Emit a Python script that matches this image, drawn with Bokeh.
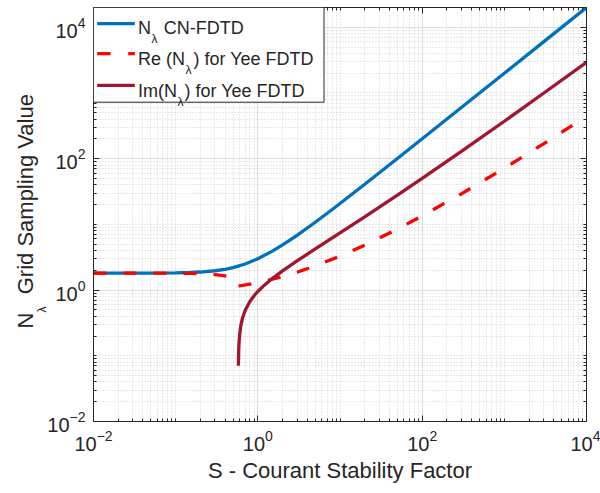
from bokeh.plotting import figure
from bokeh.models import (LogAxis, FixedTicker, CustomJSTickFormatter, Label,
                          BoxAnnotation, Range1d, Title)
from bokeh.embed import file_html
from bokeh.resources import INLINE

# ---- data ----
S_cn = [0.01, 0.05, 0.1, 0.15, 0.2, 0.3, 0.4, 0.5, 0.7, 1.0, 1.5, 2.0, 3.0, 5.0, 7.0,
        10.0, 20.0, 50.0, 100.0, 300.0, 1000.0, 3000.0, 10000.0]
N_cn = [1.814, 1.818, 1.832, 1.854, 1.884, 1.970, 2.074, 2.201, 2.496, 3.000, 3.916,
        4.872, 6.826, 10.79, 14.77, 20.76, 40.75, 100.74, 200.74, 600.7, 2000.7,
        6000.7, 20000.7]

S_re = [0.01, 0.05, 0.1, 0.15, 0.2, 0.3, 0.4, 0.45, 0.5, 0.55, 0.56, 0.57, 0.575,
        0.57735, 0.58, 0.59, 0.6, 0.62, 0.65, 0.7, 0.8, 0.9, 1.0, 1.2, 1.5, 2.0, 3.0,
        5.0, 10.0, 20.0, 50.0, 100.0, 300.0, 1000.0, 3000.0, 10000.0]
N_re = [1.8137, 1.8115, 1.8047, 1.7930, 1.7762, 1.7249, 1.6418, 1.5818, 1.5000,
        1.3694, 1.3278, 1.2691, 1.2201, 1.1547, 1.1557, 1.1595, 1.1633, 1.1707,
        1.1819, 1.2003, 1.2362, 1.2711, 1.3051, 1.3708, 1.4643, 1.6098, 1.8730,
        2.3318, 3.2836, 4.8315, 8.4977, 13.460, 29.190, 71.630, 168.22, 441.68]

S_im = [0.58, 0.585, 0.59, 0.6, 0.62, 0.65, 0.7, 0.8, 0.9, 1.0, 1.2, 1.5, 2.0, 3.0,
        5.0, 10.0, 20.0, 50.0, 100.0, 300.0, 1000.0, 3000.0, 10000.0]
N_im = [0.07046, 0.1198, 0.1542, 0.2068, 0.2848, 0.3736, 0.4896, 0.6707, 0.8200,
        0.9523, 1.1878, 1.4996, 1.9616, 2.7803, 4.2285, 7.4088, 13.035, 27.885,
        50.109, 129.08, 371.66, 990.46, 2939.1]

major_ticks = [1e-2, 1e0, 1e2, 1e4]
minor_ticks = [m * 10.0 ** k for k in range(-2, 4) for m in range(2, 10)] + [1e-1, 1e1, 1e3]

FONT = "Liberation Sans"
TXT = "#262626"
BLUE = "#0072BD"
RED = "#FF0000"
DRED = "#A2142F"
LW = 3.3

p = figure(width=600, height=493, x_axis_type="log", y_axis_type="log",
           x_range=Range1d(1e-2, 1e4), y_range=Range1d(1e-2, 20000.7),
           output_backend="svg", toolbar_location=None,
           min_border_left=93, min_border_right=14, min_border_top=7,
           min_border_bottom=72)
p.outline_line_color = None
p.background_fill_color = "white"
p.border_fill_color = "white"

xt = FixedTicker(ticks=major_ticks, minor_ticks=minor_ticks)
yt = FixedTicker(ticks=major_ticks, minor_ticks=minor_ticks)
p.xaxis.ticker = xt
p.yaxis.ticker = yt
p.xgrid.ticker = xt
p.ygrid.ticker = yt

for g in (p.xgrid, p.ygrid):
    g.grid_line_color = "#dedede"
    g.grid_line_width = 1
    g.minor_grid_line_color = "#d2d2d2"
    g.minor_grid_line_dash = "1 2"
    g.minor_grid_line_width = 1

def style_axis(ax):
    ax.axis_line_color = TXT
    ax.axis_line_width = 1
    ax.major_tick_line_color = TXT
    ax.minor_tick_line_color = TXT
    ax.major_tick_in = 6
    ax.major_tick_out = 0
    ax.minor_tick_in = 3
    ax.minor_tick_out = 0
    ax.major_label_text_font = FONT
    ax.major_label_text_font_size = "20px"
    ax.major_label_text_color = TXT

for ax in list(p.xaxis) + list(p.yaxis):
    style_axis(ax)
p.xaxis.major_label_standoff = 8
p.yaxis.major_label_standoff = 8

p.xaxis.axis_label = "S - Courant Stability Factor"
p.xaxis.axis_label_text_font = FONT
p.xaxis.axis_label_text_font_size = "22px"
p.xaxis.axis_label_text_font_style = "normal"
p.xaxis.axis_label_text_color = TXT
p.xaxis.axis_label_standoff = 4

blank = CustomJSTickFormatter(code="return ''")
top_ax = LogAxis(ticker=xt, formatter=blank, major_label_standoff=0)
right_ax = LogAxis(ticker=yt, formatter=blank, major_label_standoff=0)
style_axis(top_ax)
style_axis(right_ax)
p.add_layout(top_ax, "above")
p.add_layout(right_ax, "right")

p.line(S_cn, N_cn, color=BLUE, line_width=LW)
p.line(S_re, N_re, color=RED, line_width=LW, line_dash="13 17")
p.line(S_im, N_im, color=DRED, line_width=LW)

# ---- legend (drawn as annotations, frame-relative screen units) ----
def sbox(**kw):
    return BoxAnnotation(left_units="screen", right_units="screen",
                         top_units="screen", bottom_units="screen", **kw)

p.add_layout(sbox(right=230.5, bottom=319.3, fill_color="white", fill_alpha=1.0,
                  line_color=TXT, line_alpha=1.0, line_width=1))
p.add_layout(sbox(left=3.7, right=41.3, bottom=396.2, top=399.4, fill_color=BLUE,
                  fill_alpha=1.0, line_color=None))
p.add_layout(sbox(left=3.7, right=17.0, bottom=366.2, top=369.4, fill_color=RED,
                  fill_alpha=1.0, line_color=None))
p.add_layout(sbox(left=34.7, right=41.3, bottom=366.2, top=369.4, fill_color=RED,
                  fill_alpha=1.0, line_color=None))
p.add_layout(sbox(left=3.7, right=41.3, bottom=334.5, top=337.7, fill_color=DRED,
                  fill_alpha=1.0, line_color=None))

def lab(x, y, text, size):
    p.add_layout(Label(x=x, y=y, x_units="screen", y_units="screen", text=text,
                       text_font=FONT, text_font_size=size, text_color=TXT,
                       text_baseline="alphabetic", text_align="left"))

LF = "18px"
SF = "12px"
lab(44.5, 393.7, "N", LF)
lab(58.0, 382.7, "λ", SF)
lab(70.3, 393.7, "CN-FDTD", LF)
lab(44.5, 362.7, "Re (N", LF)
lab(92.0, 351.7, "λ", SF)
lab(100.0, 362.7, ") for Yee FDTD", LF)
lab(44.5, 331.0, "Im(N", LF)
lab(84.0, 320.0, "λ", SF)
lab(91.0, 331.0, ") for Yee FDTD", LF)

# ---- y axis label with subscript (side titles) ----
lam_title = Title(text="λ", align="left", offset=109, standoff=-9,
                  text_font=FONT, text_font_size="12px", text_font_style="normal",
                  text_color=TXT)
main_title = Title(text="N\u00a0\u00a0\u00a0Grid Sampling Value", align="left", offset=93,
                   standoff=0, text_font=FONT, text_font_size="22px",
                   text_font_style="normal", text_color=TXT)
p.add_layout(lam_title, "left")
p.add_layout(main_title, "left")

open("out.html", "w").write(file_html(p, INLINE))
